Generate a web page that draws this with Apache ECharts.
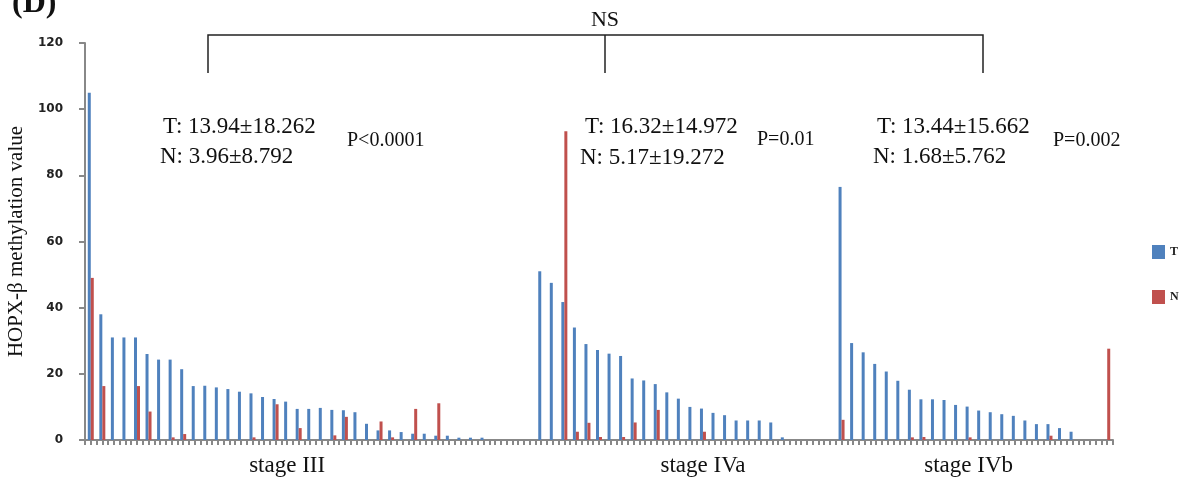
<!DOCTYPE html>
<html>
<head>
<meta charset="utf-8">
<script src="https://cdn.jsdelivr.net/npm/echarts@6/dist/echarts.min.js"></script>
<style>
html,body{margin:0;padding:0;background:#fff;}
#chart{width:1192px;height:480px;}
</style>
</head>
<body>
<div id="chart"></div>
<script>
// T (tumour) values per patient, sorted within stage groups; null = no bar
const tValues = [
  105, 38, 31, 31, 31, 26, 24.3, 24.3, 21.4, 16.3,
  16.4, 15.9, 15.4, 14.6, 14.1, 13, 12.4, 11.6, 9.4, 9.4,
  9.7, 9.1, 9.0, 8.4, 4.9, 2.9, 2.9, 2.4, 1.9, 1.9,
  1.3, 1.3, 0.7, 0.7, 0.7, null, null, null, null, 51,
  47.5, 41.7, 34, 29, 27.2, 26.1, 25.4, 18.6, 18, 16.9,
  14.4, 12.5, 10, 9.5, 8.2, 7.5, 5.9, 5.9, 5.9, 5.3,
  0.8, null, null, null, null, 76.5, 29.3, 26.5, 23, 20.7,
  17.9, 15.2, 12.3, 12.3, 12.1, 10.6, 10.1, 8.9, 8.4, 7.8,
  7.3, 5.9, 4.8, 4.8, 3.6, 2.5, null, null, null
];
// N (normal) values per patient
const nValues = [
  49, 16.3, null, null, 16.3, 8.6, null, 0.8, 1.8, null,
  null, null, null, null, 0.8, null, 10.8, null, 3.6, null,
  null, 1.4, 7.0, null, null, 5.6, 0.8, null, 9.4, null,
  11.1, null, null, null, null, null, null, null, null, null,
  null, 93.3, 2.5, 5.2, 0.9, null, 0.9, 5.3, null, 9.1,
  null, null, null, 2.5, null, null, null, null, null, null,
  null, null, null, null, null, 6.1, null, null, null, null,
  null, 0.8, 0.9, null, null, null, 0.8, null, null, null,
  null, null, null, 1.3, null, null, null, null, 27.6
];
const stageLabels = ['stage III', 'stage IVa', 'stage IVb'];
const stageLabelIndex = [17, 53, 76];
const yTicks = [0, 20, 40, 60, 80, 100, 120];
const seriesNames = ['T', 'N'];
const statLines = [
  ['T: 13.94\u00b118.262', 'N: 3.96\u00b18.792', 'P<0.0001'],
  ['T: 16.32\u00b114.972', 'N: 5.17\u00b119.272', 'P=0.01'],
  ['T: 13.44\u00b115.662', 'N: 1.68\u00b15.762', 'P=0.002']
];

const categories = tValues.map((_, i) => String(i + 1));
const tickCats = [];
for (let i = 0; i < categories.length * 2; i++) tickCats.push('');

const serif = '"Liberation Serif", "DejaVu Serif", serif';
const chart = echarts.init(document.getElementById('chart'), null, {renderer: 'canvas'});

function txt(x, y, s, size, align, extra) {
  return Object.assign({
    type: 'text', x: x, y: y,
    style: {text: s, font: size + 'px ' + serif, fill: '#111', textAlign: align || 'left', textVerticalAlign: 'middle'}
  }, extra || {});
}

const statPos = [[163, 127, 160, 157, 347, 141], [585, 127, 580, 158, 757, 140], [877, 127, 873, 157, 1053, 141]];
const graphics = [
  {type: 'text', x: 12, y: 20, style: {text: '(D)', font: 'bold 32px ' + serif, fill: '#111', textVerticalAlign: 'bottom'}},
  txt(605, 20, 'NS', 22, 'center'),
  {type: 'polyline', shape: {points: [[208, 73], [208, 35], [983, 35], [983, 73]]}, style: {stroke: '#222', lineWidth: 1.5, fill: null}},
  {type: 'line', shape: {x1: 605, y1: 35, x2: 605, y2: 73}, style: {stroke: '#222', lineWidth: 1.5}}
];
statLines.forEach((lines, k) => {
  const p = statPos[k];
  graphics.push(txt(p[0], p[1], lines[0], 23));
  graphics.push(txt(p[2], p[3], lines[1], 23));
  graphics.push(txt(p[4], p[5], lines[2], 20));
});

chart.setOption({
  animation: false,
  backgroundColor: '#fff',
  grid: {left: 85, right: 79, top: 43, bottom: 40, containLabel: false, outerBoundsMode: 'none'},
  legend: {
    orient: 'vertical', left: 1147, top: 240, itemWidth: 13, itemHeight: 14, itemGap: 31,
    icon: 'rect', data: seriesNames,
    textStyle: {fontFamily: serif, fontSize: 12, fontWeight: 'bold', color: '#222', padding: [0, 0, 10, 0]}
  },
  xAxis: [{
    type: 'category', data: categories, boundaryGap: true,
    axisLine: {show: true, lineStyle: {color: '#888', width: 2}},
    axisTick: {show: false},
    axisLabel: {
      interval: 0, margin: 14, fontFamily: serif, fontSize: 23, color: '#111',
      formatter: (v, i) => { const k = stageLabelIndex.indexOf(i); return k >= 0 ? stageLabels[k] : ''; }
    }
  }, {
    type: 'category', data: tickCats, boundaryGap: true, position: 'bottom', gridIndex: 0,
    axisLine: {show: false},
    axisTick: {show: true, interval: 0, length: 5, lineStyle: {color: '#888', width: 2}},
    axisLabel: {show: false}
  }],
  yAxis: {
    type: 'value', min: yTicks[0], max: yTicks[yTicks.length - 1], interval: 20,
    name: 'HOPX-\u03b2 methylation value', nameLocation: 'middle', nameGap: 56, nameRotate: 90,
    nameTextStyle: {fontFamily: serif, fontSize: 21, color: '#111'},
    axisLine: {show: true, lineStyle: {color: '#888', width: 2}},
    axisTick: {show: true, length: 6, lineStyle: {color: '#888', width: 2}},
    axisLabel: {margin: 22, fontFamily: '"DejaVu Sans", sans-serif', fontSize: 12, fontWeight: 'bold', color: '#222'},
    splitLine: {show: false}
  },
  series: [
    {name: seriesNames[0], type: 'bar', xAxisIndex: 0, data: tValues, barWidth: 3, barGap: '0%', itemStyle: {color: '#4F81BD'}},
    {name: seriesNames[1], type: 'bar', xAxisIndex: 0, data: nValues, barWidth: 3, barGap: '0%', itemStyle: {color: '#C0504D'}}
  ],
  graphic: graphics
});
</script>
</body>
</html>
